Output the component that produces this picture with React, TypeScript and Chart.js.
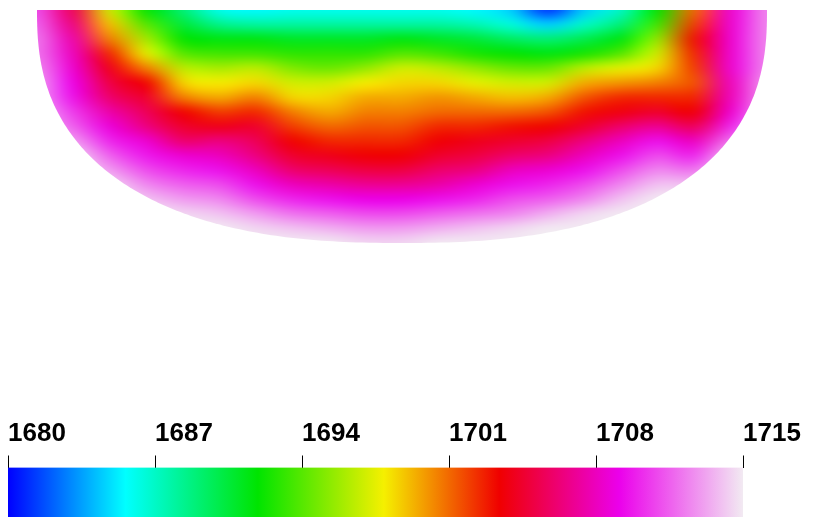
import React, { useEffect, useRef } from "react";
import { Chart, registerables } from "chart.js";

Chart.register(...registerables);

// Horizontal sample positions (columns) and depth levels (rows) of the field
const xPositions = [0, 5, 10, 15, 20, 25, 30, 35, 40, 45, 50, 55, 60, 65, 70, 75, 80, 85, 90, 95, 100];
const depthLevels = [0, 2, 4, 6, 8, 10, 12, 14, 16, 18, 20, 22, 24, 26, 28, 30, 32];

// Field values per depth row
const d00 = [1711, 1705.5, 1697, 1692, 1689, 1686, 1685.5, 1686, 1686, 1686, 1686, 1686, 1685.5, 1684.5, 1681, 1684.5, 1687, 1692, 1701, 1708.5, 1712.5];
const d02 = [1711.5, 1706.5, 1699, 1694, 1690.5, 1688.5, 1688, 1688, 1688, 1688, 1688, 1688, 1687.5, 1686.5, 1684.5, 1687, 1689, 1693.5, 1702, 1708.5, 1712.5];
const d04 = [1712, 1707.5, 1700.5, 1696, 1692, 1691.5, 1691.5, 1691, 1691, 1691, 1691.5, 1691, 1690.5, 1689.5, 1689, 1690, 1691.5, 1695.5, 1703, 1708.5, 1712.5];
const d06 = [1712, 1708, 1702.5, 1697.5, 1694, 1693.5, 1693.5, 1693, 1693, 1693, 1694, 1693.5, 1692.5, 1692, 1691.5, 1692.5, 1694, 1697, 1702.5, 1708.5, 1712.5];
const d08 = [1712.5, 1708.5, 1704, 1700.5, 1696.5, 1696, 1696.5, 1695, 1694.5, 1695.5, 1697, 1696.5, 1695.5, 1694.5, 1694.5, 1696.5, 1697.5, 1698.5, 1702, 1708.5, 1712.5];
const d10 = [1713, 1709, 1705, 1703.3, 1698.5, 1698, 1698.5, 1697, 1697, 1698, 1698.5, 1698.5, 1697.5, 1697, 1697, 1699.5, 1700, 1700.5, 1701.5, 1708, 1713];
const d12 = [1713, 1709.5, 1706, 1704.5, 1700.5, 1699.5, 1700.5, 1698.5, 1698.5, 1699.5, 1699.5, 1700, 1699.5, 1699, 1699.5, 1701.5, 1702.5, 1702.5, 1702.5, 1708, 1713];
const d14 = [1713.5, 1710.5, 1707.5, 1705.5, 1703.3, 1702, 1702.5, 1700.5, 1699.5, 1700.5, 1700.5, 1701, 1701, 1701, 1701.5, 1703, 1703.8, 1704.5, 1703.5, 1708.5, 1713.5];
const d16 = [1714, 1711.5, 1708.7, 1706.5, 1704.5, 1704, 1704.5, 1702, 1701, 1701.5, 1701.5, 1702.5, 1702.5, 1703, 1703.3, 1704.5, 1706, 1707, 1705.5, 1710, 1714];
const d18 = [1714.5, 1713, 1710, 1708.5, 1706, 1706.5, 1705.5, 1703.3, 1702.5, 1702.5, 1702.5, 1703.5, 1704, 1704.5, 1705, 1706.5, 1708, 1709.5, 1708, 1712, 1714.5];
const d20 = [1715, 1714.5, 1711.5, 1709.7, 1708.5, 1708, 1706.5, 1704.5, 1704, 1703.5, 1703.5, 1704.5, 1705, 1706, 1706.5, 1708, 1709.5, 1711, 1710, 1714, 1715];
const d22 = [1715, 1715, 1713, 1711, 1710, 1709.5, 1708, 1706, 1705.5, 1705, 1705, 1706, 1706.5, 1708, 1708.5, 1709.5, 1711, 1712.5, 1712, 1715, 1715];
const d24 = [1715, 1715, 1714.5, 1712.5, 1711.5, 1711, 1709.5, 1708, 1707.5, 1707, 1707, 1707.5, 1708.5, 1709.5, 1710, 1711, 1712.5, 1714, 1714, 1715, 1715];
const d26 = [1715, 1715, 1715, 1714, 1713, 1712.5, 1711, 1710, 1709.5, 1709, 1709, 1709.5, 1710, 1711, 1711.5, 1712.5, 1714, 1715, 1715, 1715, 1715];
const d28 = [1715, 1715, 1715, 1715, 1714.5, 1714, 1713, 1712, 1711.5, 1711, 1711, 1711.5, 1712, 1712.5, 1713.5, 1714.5, 1715, 1715, 1715, 1715, 1715];
const d30 = [1715, 1715, 1715, 1715, 1715, 1715, 1714.5, 1714, 1713.5, 1713, 1713, 1713.5, 1714, 1714.5, 1715, 1715, 1715, 1715, 1715, 1715, 1715];
const d32 = [1715, 1715, 1715, 1715, 1715, 1715, 1715, 1715, 1715, 1714.5, 1714.5, 1715, 1715, 1715, 1715, 1715, 1715, 1715, 1715, 1715, 1715];
const valueRows = [d00, d02, d04, d06, d08, d10, d12, d14, d16, d18, d20, d22, d24, d26, d28, d30, d32];

// Colour scale
const scaleMin = 1680;
const scaleMax = 1715;
const scaleTicks = [1680, 1687, 1694, 1701, 1708, 1715];
const colorStopValues = [1680, 1685.6, 1691.9, 1697.9, 1703.4, 1709.1, 1715];
const colorStopColors = [
  [0, 0, 255],
  [0, 255, 255],
  [0, 228, 0],
  [245, 240, 0],
  [240, 0, 0],
  [235, 0, 235],
  [242, 234, 242],
];

// Outline of the section (in data units)
const shapeCenterX = 50;
const shapeHalfWidth = 50;
const shapeDepth = 32;
const shapeExponent = 2.45;

function colorFor(v: number): string {
  if (v == null || isNaN(v)) return "rgba(0,0,0,0)";
  const vals = colorStopValues;
  if (v <= vals[0]) return `rgb(${colorStopColors[0].join(",")})`;
  for (let i = 1; i < vals.length; i++) {
    if (v <= vals[i]) {
      const t = (v - vals[i - 1]) / (vals[i] - vals[i - 1]);
      const a = colorStopColors[i - 1];
      const b = colorStopColors[i];
      const c = a.map((ai, k) => Math.round(ai + (b[k] - ai) * t));
      return `rgb(${c.join(",")})`;
    }
  }
  return `rgb(${colorStopColors[colorStopColors.length - 1].join(",")})`;
}

const smoothFieldPlugin = {
  id: "smoothField",
  afterDatasetsDraw(chart: any) {
    const { ctx, scales } = chart;
    const xs = scales.x;
    const ys = scales.y;
    const canvas = chart.canvas as HTMLCanvasElement;
    const W = canvas.width;
    const H = canvas.height;
    const img = ctx.getImageData(0, 0, W, H);
    const cols = xPositions.length;
    const rows = depthLevels.length;
    const small = document.createElement("canvas");
    small.width = cols;
    small.height = rows;
    const sctx = small.getContext("2d")!;
    const out = sctx.createImageData(cols, rows);
    for (let j = 0; j < rows; j++) {
      for (let i = 0; i < cols; i++) {
        const px = Math.min(W - 1, Math.max(0, Math.round(xs.getPixelForValue(xPositions[i]))));
        const py = Math.min(H - 1, Math.max(0, Math.round(ys.getPixelForValue(depthLevels[j]))));
        const si = (py * W + px) * 4;
        const di = (j * cols + i) * 4;
        out.data[di] = img.data[si];
        out.data[di + 1] = img.data[si + 1];
        out.data[di + 2] = img.data[si + 2];
        out.data[di + 3] = img.data[si + 3];
      }
    }
    sctx.putImageData(out, 0, 0);

    ctx.save();
    ctx.setTransform(1, 0, 0, 1, 0, 0);
    ctx.clearRect(0, 0, W, H);
    ctx.beginPath();
    const N = 240;
    const e = 2 / shapeExponent;
    for (let k = 0; k <= N; k++) {
      const t = (Math.PI * k) / N;
      const c = Math.cos(t);
      const s = Math.sin(t);
      const xd = shapeCenterX + shapeHalfWidth * Math.sign(c) * Math.pow(Math.abs(c), e);
      const yd = shapeDepth * Math.pow(Math.abs(s), e);
      const px = xs.getPixelForValue(xd);
      const py = ys.getPixelForValue(yd);
      if (k === 0) ctx.moveTo(px, py);
      else ctx.lineTo(px, py);
    }
    ctx.closePath();
    ctx.clip();
    ctx.imageSmoothingEnabled = true;
    ctx.imageSmoothingQuality = "high";
    const x0 = xs.getPixelForValue(xPositions[0]);
    const x1 = xs.getPixelForValue(xPositions[cols - 1]);
    const y0 = ys.getPixelForValue(depthLevels[0]);
    const y1 = ys.getPixelForValue(depthLevels[rows - 1]);
    ctx.drawImage(small, 0.5, 0.5, cols - 1, rows - 1, x0, y0, x1 - x0, y1 - y0);
    ctx.restore();
  },
};

export default function App() {
  const fieldRef = useRef<HTMLCanvasElement>(null);
  const barRef = useRef<HTMLCanvasElement>(null);

  useEffect(() => {
    const points: { x: number; y: number; v: number }[] = [];
    depthLevels.forEach((d, j) => {
      xPositions.forEach((x, i) => {
        points.push({ x, y: d, v: valueRows[j][i] });
      });
    });

    const fieldChart = new Chart(fieldRef.current!, {
      type: "scatter",
      data: {
        datasets: [
          {
            data: points as any,
            pointStyle: "rect",
            pointRadius: 10,
            pointHoverRadius: 10,
            borderWidth: 0,
            clip: false as any,
            backgroundColor: (c: any) => colorFor(c.raw ? c.raw.v : NaN),
          },
        ],
      },
      options: {
        animation: false,
        responsive: false,
        events: [],
        layout: { padding: { left: 37, right: 51, top: 7, bottom: 17 } },
        scales: {
          x: { type: "linear", min: 0, max: 100, display: false },
          y: { type: "linear", min: 0, max: 32, reverse: true, display: false },
        },
        plugins: { legend: { display: false }, tooltip: { enabled: false } },
      },
      plugins: [smoothFieldPlugin],
    });

    const barChart = new Chart(barRef.current!, {
      type: "bar",
      data: {
        labels: ["scale"],
        datasets: [
          {
            data: [[scaleMin, scaleMax]] as any,
            borderWidth: 0,
            barPercentage: 1,
            categoryPercentage: 1,
            backgroundColor: (c: any) => {
              const chart = c.chart;
              const xs = chart.scales && chart.scales.x;
              if (!xs || !chart.chartArea) return colorFor(scaleMin);
              const g = chart.ctx.createLinearGradient(
                xs.getPixelForValue(scaleMin), 0, xs.getPixelForValue(scaleMax), 0
              );
              colorStopValues.forEach((v) => {
                g.addColorStop((v - scaleMin) / (scaleMax - scaleMin), colorFor(v));
              });
              return g;
            },
          },
        ],
      },
      options: {
        indexAxis: "y",
        animation: false,
        responsive: false,
        events: [],
        layout: { padding: { left: 8, right: 75, top: 8, bottom: 1 } },
        scales: {
          x: {
            type: "linear",
            position: "top",
            min: scaleMin,
            max: scaleMax,
            afterBuildTicks: (s: any) => {
              s.ticks = scaleTicks.map((v) => ({ value: v }));
            },
            ticks: {
              align: "start",
              color: "#000",
              font: { family: '"Liberation Sans", Arial, sans-serif', size: 26, weight: "bold" },
              padding: 6,
              maxRotation: 0,
              autoSkip: false,
              callback: (v: any) => String(v),
            },
            grid: { drawOnChartArea: false, drawTicks: true, tickLength: 12, color: "#000", lineWidth: 1 },
            border: { display: false },
          },
          y: { display: false },
        },
        plugins: { legend: { display: false }, tooltip: { enabled: false } },
      },
    });

    return () => {
      fieldChart.destroy();
      barChart.destroy();
    };
  }, []);

  return (
    <div style={{ position: "absolute", left: 0, top: 0, width: 818, height: 518, background: "#fff" }}>
      <canvas ref={fieldRef} width={818} height={260} style={{ position: "absolute", left: 0, top: 0, width: 818, height: 260 }} />
      <canvas ref={barRef} width={818} height={108} style={{ position: "absolute", left: 0, top: 410, width: 818, height: 108 }} />
    </div>
  );
}
